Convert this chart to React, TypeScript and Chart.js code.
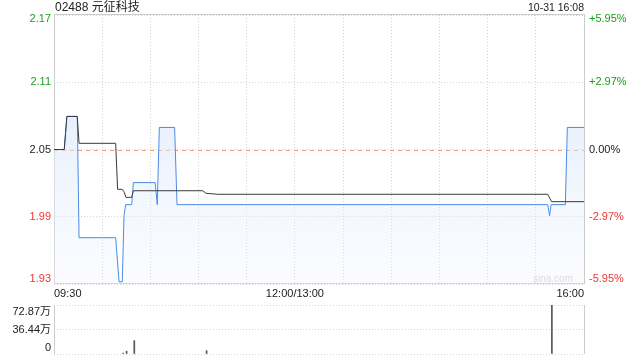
import React, { useEffect, useRef } from 'react';
import { Chart, registerables } from 'chart.js';

Chart.register(...registerables);

// ---- quote header ----
const stockCode = '02488';
const stockName = '元征科技';
const stampText = '10-31 16:08';

// ---- price axis ----
const preClose = 2.05;
const rangePct = 5.95; // symmetric axis range around the previous close, in %
const priceTickLabels = ['2.17', '2.11', '2.05', '1.99', '1.93'];
const pctTickLabels = ['+5.95%', '+2.97%', '0.00%', '-2.97%', '-5.95%'];

// ---- time axis (minutes since 09:30, lunch break removed) ----
const sessionMinutes = 330;
const gridMinutes = [0, 30, 60, 90, 120, 150, 180, 210, 240, 270, 300, 330];
const timeLabels = ['09:30', '12:00/13:00', '16:00'];
const timeLabelMinutes = [0, 150, 330];

// ---- last price ----
const priceMinutes = [0, 6.4, 8, 14.5, 15.6, 38.4, 40.5, 42.5, 43.6, 44.6, 48.4, 49.4, 63, 64.3, 65.6, 75.1, 76.6, 307.4, 308.6, 309.5, 318.4, 319.6, 330];
const priceValues = [2.05, 2.05, 2.08, 2.08, 1.97, 1.97, 1.93, 1.93, 1.99, 2.0, 2.0, 2.02, 2.02, 2.0, 2.07, 2.07, 2.0, 2.0, 1.99, 2.0, 2.0, 2.07, 2.07];

// ---- average price ----
const avgMinutes = [0, 6.4, 8, 14.5, 15.6, 38.4, 39.6, 42.5, 43.6, 44.8, 48.4, 49.4, 92.6, 94.6, 101.7, 307.4, 309.8, 330];
const avgValues = [2.05, 2.05, 2.08, 2.08, 2.0556, 2.0556, 2.0139, 2.0139, 2.0117, 2.0066, 2.0066, 2.0126, 2.0126, 2.0103, 2.0094, 2.0094, 2.0027, 2.0027];

// ---- volume (万股) ----
const volumeMinutes = [43, 45.2, 50, 95, 310];
const volumeValues = [1.2, 4.2, 19.8, 5.0, 72.87];
const volumeMax = 72.87;
const volumeTickValues = [72.87, 36.44, 0];
const volumeTickLabels = ['72.87万', '36.44万', '0'];

const FONT = '"Liberation Sans", Arial, "Noto Sans CJK SC", sans-serif';
const GREEN = '#1d9e1d';
const RED = '#ee3636';
const GRID = '#d4d4d4';
const FRAME = '#cccccc';

const yMax = preClose * (1 + rangePct / 100);
const yMin = preClose * (1 - rangePct / 100);
const priceTickValues = priceTickLabels.map((_, i) => yMax - (i * (yMax - yMin)) / (priceTickLabels.length - 1));

const mainDecor = {
  id: 'mainDecor',
  beforeDatasetsDraw(chart: any) {
    const { ctx, chartArea: a, scales } = chart;
    ctx.save();
    // previous close reference line
    const yc = Math.round(scales.y.getPixelForValue(preClose)) + 0.5;
    ctx.strokeStyle = '#f0a070';
    ctx.lineWidth = 1;
    ctx.setLineDash([4, 4]);
    ctx.beginPath();
    ctx.moveTo(a.left, yc);
    ctx.lineTo(a.right, yc);
    ctx.stroke();
    ctx.setLineDash([]);
    // frame
    ctx.strokeStyle = FRAME;
    ctx.strokeRect(a.left + 0.5, a.top - 0.5, a.right - a.left, a.bottom - a.top);
    // watermark
    ctx.font = `10px ${FONT}`;
    ctx.fillStyle = '#d2d2d2';
    ctx.textAlign = 'right';
    ctx.textBaseline = 'middle';
    ctx.fillText('sina.com', a.right - 11, a.bottom - 5);
    ctx.restore();
  },
  afterDraw(chart: any) {
    const { ctx, chartArea: a, scales } = chart;
    ctx.save();
    ctx.textBaseline = 'middle';
    // header
    ctx.font = `12px ${FONT}`;
    ctx.fillStyle = '#222';
    ctx.textAlign = 'left';
    ctx.fillText(`${stockCode} ${stockName}`, a.left + 1, 8);
    ctx.font = `10.5px ${FONT}`;
    ctx.textAlign = 'right';
    ctx.fillText(stampText, a.right, 8);
    // price / percent labels
    ctx.font = `11px ${FONT}`;
    priceTickValues.forEach((v, i) => {
      let y = scales.y.getPixelForValue(v);
      y = Math.min(Math.max(y, a.top + 4), a.bottom - 5);
      const col = Math.abs(v - preClose) < 1e-6 ? '#222' : v > preClose ? GREEN : RED;
      ctx.fillStyle = col;
      ctx.textAlign = 'right';
      ctx.fillText(priceTickLabels[i], a.left - 3, y);
      ctx.textAlign = 'left';
      ctx.fillText(pctTickLabels[i], a.right + 5, y);
    });
    // time labels
    ctx.fillStyle = '#222';
    timeLabels.forEach((t, i) => {
      const x = scales.x.getPixelForValue(timeLabelMinutes[i]);
      ctx.textAlign = i === 0 ? 'left' : i === timeLabels.length - 1 ? 'right' : 'center';
      ctx.fillText(t, x, a.bottom + 10);
    });
    ctx.restore();
  },
};

const volumeDecor = {
  id: 'volumeDecor',
  afterDraw(chart: any) {
    const { ctx, chartArea: a, scales } = chart;
    ctx.save();
    ctx.strokeStyle = FRAME;
    ctx.lineWidth = 1;
    ctx.beginPath();
    ctx.moveTo(a.left + 0.5, a.top);
    ctx.lineTo(a.left + 0.5, a.bottom);
    ctx.moveTo(a.right + 0.5, a.top);
    ctx.lineTo(a.right + 0.5, a.bottom);
    ctx.stroke();
    ctx.font = `11px ${FONT}`;
    ctx.fillStyle = '#222';
    ctx.textAlign = 'right';
    ctx.textBaseline = 'middle';
    volumeTickValues.forEach((v, i) => {
      let y = scales.y.getPixelForValue(v);
      y = Math.min(Math.max(y, a.top + 6.5), a.bottom - 6);
      ctx.fillText(volumeTickLabels[i], a.left - 3, y);
    });
    ctx.restore();
  },
};

function MainChart() {
  const ref = useRef<HTMLCanvasElement>(null);
  useEffect(() => {
    const chart = new Chart(ref.current!, {
      type: 'line',
      data: {
        datasets: [
          {
            label: '均价',
            data: avgMinutes.map((m, i) => ({ x: m, y: avgValues[i] })),
            borderColor: '#3a3a3a',
            borderWidth: 1,
            pointRadius: 0,
            fill: false,
            tension: 0,
          },
          {
            label: '价格',
            data: priceMinutes.map((m, i) => ({ x: m, y: priceValues[i] })),
            borderColor: '#4b8be6',
            borderWidth: 1,
            pointRadius: 0,
            tension: 0,
            fill: 'start',
            backgroundColor: (c: any) => {
              const area = c.chart.chartArea;
              if (!area) return 'rgba(215,228,250,0.5)';
              const g = c.chart.ctx.createLinearGradient(0, area.top, 0, area.bottom);
              g.addColorStop(0, 'rgba(200,220,250,0.75)');
              g.addColorStop(1, 'rgba(240,245,255,0.3)');
              return g;
            },
          },
        ],
      },
      options: {
        animation: false,
        responsive: false,
        maintainAspectRatio: false,
        devicePixelRatio: 1,
        layout: { padding: { top: 15, left: 0, right: 0, bottom: 0 } },
        plugins: { legend: { display: false }, tooltip: { enabled: false } },
        scales: {
          x: {
            type: 'linear',
            min: 0,
            max: sessionMinutes,
            afterBuildTicks: (s: any) => {
              s.ticks = gridMinutes.map((v) => ({ value: v }));
            },
            afterFit: (s: any) => {
              s.height = 16;
            },
            ticks: { display: false },
            grid: { color: GRID, drawTicks: false },
            border: { display: false, dash: [1, 2] },
          },
          y: {
            type: 'linear',
            position: 'left',
            min: yMin,
            max: yMax,
            afterBuildTicks: (s: any) => {
              s.ticks = priceTickValues.map((v) => ({ value: v }));
            },
            afterFit: (s: any) => {
              s.width = 54;
            },
            ticks: { display: false },
            grid: { color: GRID, drawTicks: false },
            border: { display: false, dash: [1, 2] },
          },
          pct: {
            type: 'linear',
            position: 'right',
            min: yMin,
            max: yMax,
            afterFit: (s: any) => {
              s.width = 56;
            },
            ticks: { display: false },
            grid: { display: false, drawTicks: false },
            border: { display: false },
          },
        },
      } as any,
      plugins: [mainDecor],
    });
    return () => chart.destroy();
  }, []);
  return (
    <canvas
      ref={ref}
      width={640}
      height={300}
      style={{ position: 'absolute', left: 0, top: 0, width: 640, height: 300 }}
    />
  );
}

function VolumeChart() {
  const ref = useRef<HTMLCanvasElement>(null);
  useEffect(() => {
    const chart = new Chart(ref.current!, {
      type: 'bar',
      data: {
        datasets: [
          {
            label: '成交量',
            data: volumeMinutes.map((m, i) => ({ x: m, y: volumeValues[i] })),
            backgroundColor: '#555555',
            barThickness: 1,
          },
        ],
      },
      options: {
        animation: false,
        responsive: false,
        maintainAspectRatio: false,
        devicePixelRatio: 1,
        layout: { padding: { top: 5, left: 0, right: 56, bottom: 6 } },
        plugins: { legend: { display: false }, tooltip: { enabled: false } },
        scales: {
          x: {
            type: 'linear',
            min: 0,
            max: sessionMinutes,
            offset: false,
            display: false,
            grid: { offset: false },
          },
          y: {
            type: 'linear',
            min: 0,
            max: volumeMax,
            afterBuildTicks: (s: any) => {
              s.ticks = volumeTickValues.map((v) => ({ value: v }));
            },
            afterFit: (s: any) => {
              s.width = 54;
            },
            ticks: { display: false },
            grid: { color: GRID, drawTicks: false },
            border: { display: false, dash: [1, 2] },
          },
        },
      } as any,
      plugins: [volumeDecor],
    });
    return () => chart.destroy();
  }, []);
  return (
    <canvas
      ref={ref}
      width={640}
      height={60}
      style={{ position: 'absolute', left: 0, top: 300, width: 640, height: 60 }}
    />
  );
}

export default function App() {
  return (
    <div
      style={{
        position: 'fixed',
        left: 0,
        top: 0,
        width: 640,
        height: 360,
        background: '#ffffff',
        overflow: 'hidden',
      }}
    >
      <MainChart />
      <VolumeChart />
    </div>
  );
}
